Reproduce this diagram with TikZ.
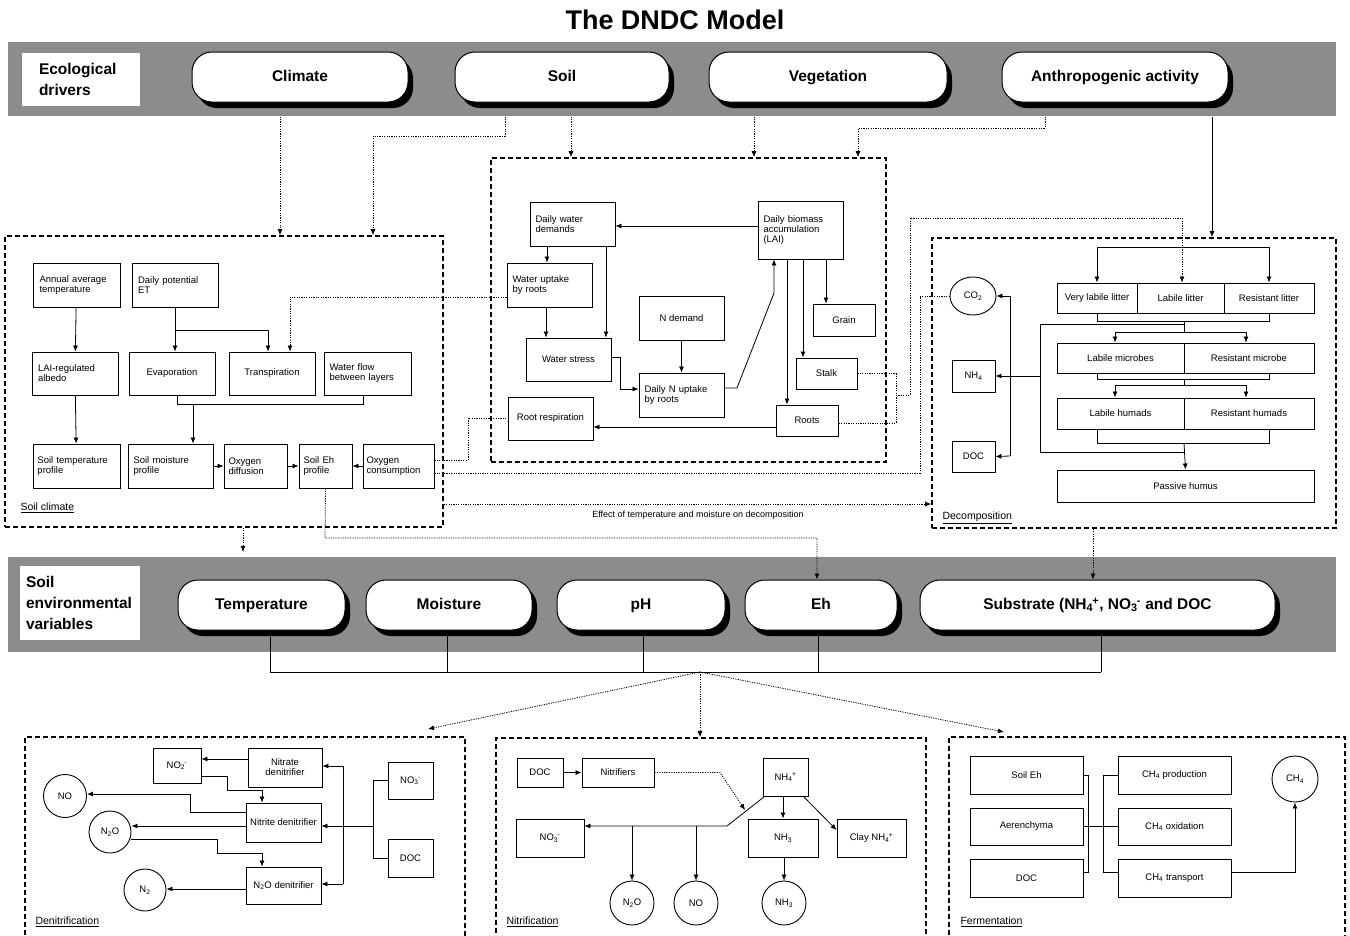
\documentclass[tikz,border=0pt]{standalone}
\usepackage{fontspec}
\setmainfont{Liberation Sans}
\usetikzlibrary{arrows.meta,shadows,shapes.geometric}
\newcommand{\subsup}[2]{\textsubscript{#1}\kern-0.05em\textsuperscript{#2}}
\newcommand{\bxn}[6][]{\node[bx,#1,minimum width={#4-#2},minimum height={#5-#3}] (#6) at ({(#2+#4)/2},{(#3+#5)/2})}
\definecolor{bandgray}{RGB}{140,140,140}
\tikzset{
  bx/.style={draw,line width=0.9pt,inner sep=1.5pt,font=\fontsize{9.5}{10}\selectfont,align=center},
  lt/.style={align=left,text width=#1},
  dbox/.style={line width=1.6pt,dash pattern=on 5pt off 3pt,fill=none},
  pill/.style={line width=1pt,fill=white,rounded corners=20pt,font=\bfseries\fontsize{15.5}{18}\selectfont,
    text height=11.5pt,text depth=3pt,
    drop shadow={shadow xshift=5pt,shadow yshift=-6pt,fill=black,opacity=1}},
  lbl/.style={draw=none,fill=white,font=\bfseries\fontsize{15.5}{21}\selectfont,align=left},
  circ/.style={draw,circle,line width=0.9pt,inner sep=0pt,font=\fontsize{9.5}{10}\selectfont},
  arr/.style={line width=0.8pt,-{Latex[length=6pt,width=5pt]}},
  ln/.style={line width=0.8pt},
  dt/.style={line width=0.9pt,dash pattern=on 1.2pt off 1.2pt},
  captxt/.style={font=\fontsize{10.5}{12}\selectfont,anchor=west}
}
\begin{document}
\begin{tikzpicture}[x=1pt,y=-1pt]
\clip (0,0) rectangle (1350,935);
\fill[white] (0,0) rectangle (1350,935);
\node[font=\bfseries\fontsize{27}{30}\selectfont] (title) at (675,20) {The DNDC Model};
% bands
\fill[bandgray] (8,42) rectangle (1336,116);
\fill[bandgray] (8,557) rectangle (1336,652);
\bxn[lbl,text width=84]{22}{53}{140}{106}{ecod}{Ecological\\drivers};
\bxn[pill]{192}{52}{408}{102}{climate}{Climate};
\bxn[pill]{455}{52}{669}{102}{soil}{Soil};
\bxn[pill]{709}{52}{947}{102}{veg}{Vegetation};
\bxn[pill]{1002}{52}{1228}{102}{anth}{Anthropogenic activity};
\bxn[lbl,text width=108]{20}{566}{140}{640}{sev}{Soil\\environmental\\variables};
\bxn[pill]{178}{580}{345}{630}{temp}{Temperature};
\bxn[pill]{366}{580}{532}{630}{moist}{Moisture};
\bxn[pill]{557}{580}{725}{630}{ph}{pH};
\bxn[pill]{745}{580}{897}{630}{eh}{Eh};
\bxn[pill]{920}{580}{1275}{630}{sub}{Substrate (NH\subsup{4}{+}, NO\subsup{3}{-} and DOC};
% dashed group boxes
\bxn[dbox]{5}{236}{443}{527}{sc}{};
\bxn[dbox]{491}{158}{886}{462}{vg}{};
\bxn[dbox]{932}{238}{1336}{528}{dc}{};
\bxn[dbox]{25}{737}{465}{960}{dn}{};
\bxn[dbox]{496}{738}{926}{960}{nt}{};
\bxn[dbox]{949}{737}{1345}{960}{fm}{};
\node[captxt] (sclab) at (17,508) {\underline{Soil climate}};
\node[captxt] (dclab) at (939,518) {\underline{Decomposition}};
\node[captxt] (dnlab) at (32,922) {\underline{Denitrification}};
\node[captxt] (ntlab) at (503,922) {\underline{Nitrification}};
\node[captxt] (fmlab) at (957,922) {\underline{Fermentation}};
% soil climate
\bxn[lt=74]{33}{263}{120}{307}{aat}{Annual average\\temperature};
\bxn[lt=74]{132}{263}{218}{307}{dpet}{Daily potential\\ET};
\bxn[lt=74]{32}{352}{118}{395}{lai}{LAI-regulated\\albedo};
\bxn{129}{352}{215}{395}{evap}{Evaporation};
\bxn{229}{352}{315}{395}{trans}{Transpiration};
\bxn[lt=76]{324}{352}{411}{395}{wfl}{Water flow\\between layers};
\bxn[lt=78]{33}{444}{120}{488}{stp}{Soil temperature\\profile};
\bxn[lt=74]{128}{444}{213}{488}{smp}{Soil moisture\\profile};
\bxn[lt=54]{224}{444}{287}{488}{odf}{Oxygen\\diffusion};
\bxn[lt=44]{299}{444}{352}{488}{seh}{Soil Eh\\profile};
\bxn[lt=64]{363}{444}{434}{488}{ocs}{Oxygen\\consumption};
% vegetation
\bxn[lt=74]{530}{202}{615}{246}{dwd}{Daily water\\demands};
\bxn[lt=74]{507}{263}{592}{307}{wur}{Water uptake\\by roots};
\bxn[lt=74]{758}{201}{843}{259}{dba}{Daily biomass\\accumulation\\(LAI)};
\bxn{813}{304}{875}{336}{grain}{Grain};
\bxn{639}{296}{724}{340}{nd}{N demand};
\bxn{526}{338}{611}{381}{ws}{Water stress};
\bxn{796}{358}{857}{389}{stalk}{Stalk};
\bxn[lt=74]{639}{373}{724}{417}{dnu}{Daily N uptake\\by roots};
\bxn{508}{397}{593}{440}{rr}{Root respiration};
\bxn{776}{405}{838}{436}{roots}{Roots};
% decomposition
\node[draw,ellipse,line width=0.9pt,minimum width=46,minimum height=38,inner sep=0pt,font=\fontsize{9.5}{10}\selectfont] (co2) at (973,296) {CO\textsubscript{2}};
\bxn{952}{360}{995}{392}{nh4}{NH\textsubscript{4}};
\bxn{952}{441}{995}{472}{ddoc}{DOC};
\bxn{1057}{283}{1137}{313}{vll}{Very labile litter};
\bxn{1137}{283}{1224}{313}{ll}{Labile litter};
\bxn{1224}{283}{1314}{313}{rl}{Resistant litter};
\bxn{1057}{343}{1184}{373}{lm}{Labile microbes};
\bxn{1184}{343}{1314}{373}{rm}{Resistant microbe};
\bxn{1057}{398}{1184}{429}{lh}{Labile humads};
\bxn{1184}{398}{1314}{429}{rh}{Resistant humads};
\bxn{1057}{470}{1314}{502}{phu}{Passive humus};
% denitrification
\bxn{153}{748}{201}{783}{no2}{NO\subsup{2}{-}};
\bxn{248}{748}{322}{787}{nad}{Nitrate\\denitrifier};
\node[circ,minimum size=43] (noc) at (65,796) {NO};
\bxn{246}{803}{321}{842}{nid}{Nitrite denitrifier};
\node[circ,minimum size=42] (n2oc) at (110,832) {N\textsubscript{2}O};
\bxn{246}{867}{321}{904}{n2od}{N\textsubscript{2}O denitrifier};
\node[circ,minimum size=42] (n2c) at (145,890) {N\textsubscript{2}};
\bxn{388}{762}{433}{799}{no3}{NO\subsup{3}{-}};
\bxn{388}{839}{433}{877}{ddoc2}{DOC};
% nitrification
\bxn{517}{758}{563}{787}{ndoc}{DOC};
\bxn{582}{758}{654}{787}{nitr}{Nitrifiers};
\bxn{763}{758}{808}{796}{nh4b}{NH\subsup{4}{+}};
\bxn{516}{819}{584}{857}{no3b}{NO\subsup{3}{-}};
\bxn{748}{819}{818}{857}{nh3b}{NH\textsubscript{3}};
\bxn{837}{819}{906}{857}{clay}{Clay NH\subsup{4}{+}};
\node[circ,minimum size=44] (n2on) at (632,903) {N\textsubscript{2}O};
\node[circ,minimum size=44] (non) at (696,903) {NO};
\node[circ,minimum size=44] (nh3c) at (784,903) {NH\textsubscript{3}};
% fermentation
\bxn{970}{756}{1083}{794}{seh2}{Soil Eh};
\bxn{970}{808}{1083}{845}{aer}{Aerenchyma};
\bxn{970}{859}{1083}{897}{fdoc}{DOC};
\bxn{1118}{756}{1231}{794}{chp}{CH\textsubscript{4} production};
\bxn{1118}{808}{1231}{845}{cho}{CH\textsubscript{4} oxidation};
\bxn{1118}{859}{1231}{897}{cht}{CH\textsubscript{4} transport};
\node[circ,minimum size=46] (ch4c) at (1295,779) {CH\textsubscript{4}};

% ---- connectors from drivers
\draw[dt,arr] (climate.south -| 280,0) ++(0,14) -- (sc.north -| 280,0);
\draw[dt,arr] (soil.south -| 505,0) ++(0,14) -- (505,136) -- (373,136) -- (sc.north -| 373,0);
\draw[dt,arr] (soil.south -| 571,0) ++(0,14) -- (vg.north -| 571,0);
\draw[dt,arr] (veg.south -| 754,0) ++(0,14) -- (vg.north -| 754,0);
\draw[dt,arr] (anth.south -| 1045,0) ++(0,14) -- (1045,128) -- (858,128) -- (vg.north -| 858,0);
\draw[arr] (anth.south -| 1212,0) ++(0,14) -- (dc.north -| 1212,0);
% soil climate internal
\draw[arr] (aat) -- (lai);
\draw[arr] (lai) -- (stp);
\draw[arr] (dpet.south) -- (dpet.south |- evap.north);
\draw[arr] (dpet.south |- 0,330) -| (trans.north -| 268,0);
\draw[dt,arr] (wur.west |- 0,297) -- (290,297) -- (trans.north -| 290,0);
\draw[ln] (evap.south -| 177,0) -- (177,404) -- (363,404) -- (wfl.south -| 363,0);
\draw[arr] (193,404) -- (smp.north -| 193,0);
\draw[arr] (smp) -- (odf);
\draw[arr] (odf) -- (seh);
\draw[arr] (ocs) -- (seh);
\draw[dt,arr] (seh.south) -- (325,538) -- (817,538) -- (eh.north -| 817,0);
\draw[dt] (ocs.east |- 0,460) -- (468,460) -- (468,418) -- (rr.west |- 0,418);
\draw[dt] (ocs.east |- 0,473) -- (920,473) -- (920,296) -- (co2.west);
\draw[dt,arr] (sc.east |- 0,504) -- (dc.west |- 0,504);
\node[font=\fontsize{9}{10}\selectfont] (eff) at (698,515) {Effect of temperature and moisture on decomposition};
\coordinate (scdown) at (243,552);
\draw[dt,arr] (sc.south -| 243,0) -- (scdown);
\draw[dt,arr] (dc.south -| 1093,0) -- (sub.north -| 1093,0);
% vegetation internal
\draw[arr] (dba.west |- 0,226) -- (dwd.east |- 0,226);
\draw[arr] (dwd.south -| 547,0) -- (wur.north -| 547,0);
\draw[arr] (dwd.south -| 606,0) -- (ws.north -| 606,0);
\draw[arr] (wur.south -| 546,0) -- (ws.north -| 546,0);
\draw[arr] (ws.east |- 0,357) -- (620,357) -- (620,389) -- (dnu.west |- 0,389);
\draw[arr] (nd) -- (dnu);
\draw[arr] (dnu.east |- 0,388) -- (737,388) -- (774,293) -- (dba.south -| 774,0);
\draw[arr] (dba.south -| 787,0) -- (roots.north -| 787,0);
\draw[arr] (dba.south -| 803,0) -- (stalk.north -| 803,0);
\draw[arr] (dba.south -| 826,0) -- (grain.north -| 826,0);
\draw[arr] (roots.west |- 0,427) -- (rr.east |- 0,427);
\draw[dt] (stalk.east) -- (896,373.5) -- (896,423) -- (roots.east |- 0,423);
\draw[dt,arr] (896,395) -- (910,395) -- (910,218) -- (1182,218) -- (ll.north -| 1182,0);
% decomposition internal
\draw[arr] (1010,296) -- (co2.east);
\draw[ln] (1010,296) -- (1010,456);
\draw[arr] (1010,456) -- (ddoc.east);
\draw[arr] (1040,376) -- (nh4.east);
\draw[ln] (1184,324) -- (1040,324) -- (1040,452) -- (1184,452);
\draw[ln] (1097,247) -- (1269,247);
\draw[arr] (1097,247) -- (vll.north -| 1097,0);
\draw[arr] (1269,247) -- (rl.north -| 1269,0);
\draw[ln] (vll.south -| 1097,0) -- (1097,321) -- (1269,321) -- (rl.south -| 1269,0);
\draw[ln] (1184,321) -- (1184,332);
\draw[ln] (1115,332) -- (1246,332);
\draw[arr] (1115,332) -- (lm.north -| 1115,0);
\draw[arr] (1246,332) -- (rm.north -| 1246,0);
\draw[ln] (lm.south -| 1097,0) -- (1097,379) -- (1269,379) -- (rm.south -| 1269,0);
\draw[ln] (1184,379) -- (1184,385);
\draw[ln] (1115,385) -- (1246,385);
\draw[arr] (1115,385) -- (lh.north -| 1115,0);
\draw[arr] (1246,385) -- (rh.north -| 1246,0);
\draw[ln] (lh.south -| 1097,0) -- (1097,443) -- (1269,443) -- (rh.south -| 1269,0);
\draw[arr] (1184,443) -- (phu.north);
% soil environmental variables to processes
\draw[ln] (temp.south -| 270,0) -- (270,672);
\draw[ln] (moist.south -| 447,0) -- (447,672);
\draw[ln] (ph.south -| 643,0) -- (643,672);
\draw[ln] (eh.south -| 818,0) -- (818,672);
\draw[ln] (sub.south -| 1101,0) -- (1101,672);
\draw[ln] (270,672) -- (1101,672);
\coordinate (hub) at (700,672);
\draw[dt,arr] (hub) -- (nt.north -| 700,0);
\draw[dt,arr] (hub) -- (428,729);
\draw[dt,arr] (hub) -- (1004,732);
% denitrification internal
\draw[ln] (no3.west) -- (373,780.5) -- (373,858) -- (ddoc2.west);
\draw[arr] (373,826) -- (nid.east |- 0,826);
\draw[ln] (343,766) -- (343,884);
\draw[arr] (343,766) -- (nad.east |- 0,766);
\draw[arr] (343,884) -- (n2od.east |- 0,884);
\draw[arr] (nad.west |- 0,759) -- (no2.east |- 0,759);
\draw[arr] (no2.east |- 0,776) -- (227,776) -- (227,790) -- (262,790) -- (nid.north -| 262,0);
\draw[arr] (nid.west |- 0,812) -- (190,812) -- (190,794) -- (noc.east |- 0,794);
\draw[arr] (nid.west |- 0,826) -- (n2oc.east |- 0,826);
\draw[arr] (n2oc.east |- 0,839) -- (217,839) -- (217,853) -- (262,853) -- (n2od.north -| 262,0);
\draw[arr] (n2od.west |- 0,889) -- (n2c.east |- 0,889);
% nitrification internal
\draw[arr] (ndoc) -- (nitr);
\draw[dt,arr] (nitr.east) -- (720,772.5) -- (745,810);
\draw[arr] (nh4b.south west) ++(2,0) -- (727,826) -- (no3b.east |- 0,826);
\draw[arr] (632,826) -- (n2on.north);
\draw[arr] (696,826) -- (non.north);
\draw[arr] (nh4b.south -| 783,0) -- (nh3b.north -| 783,0);
\draw[arr] (nh4b.south east) ++(-5,0) -- (clay.west |- 0,830);
\draw[arr] (nh3b.south -| 784,0) -- (nh3c.north);
% fermentation internal
\draw[ln] (seh2.east) -- (1088,775) -- (1088,872) -- (fdoc.east |- 0,872);
\draw[ln] (aer.east) -- (cho.west);
\draw[ln] (chp.west) -- (1103,775) -- (1103,872) -- (cht.west |- 0,872);
\draw[arr] (cht.east |- 0,872) -- (1295,872) -- (ch4c.south);
\end{tikzpicture}
\end{document}
